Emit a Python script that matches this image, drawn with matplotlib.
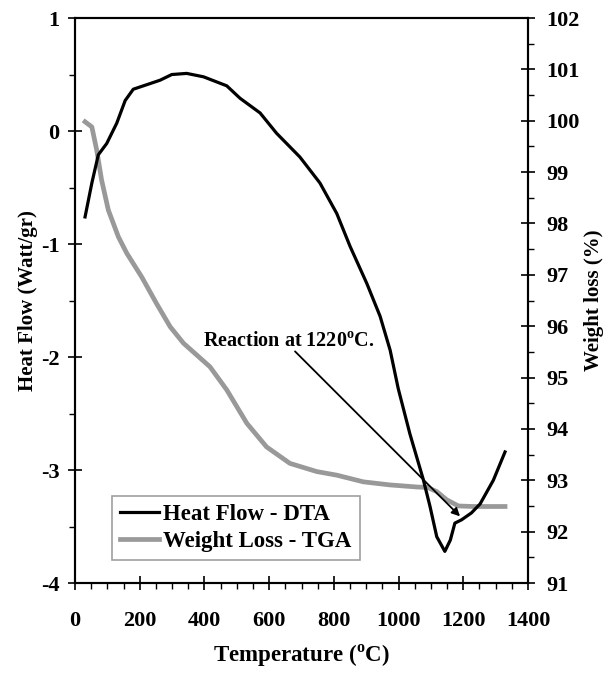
import matplotlib
matplotlib.use("Agg")
import matplotlib.pyplot as plt
from matplotlib.ticker import MultipleLocator

plt.rcParams['font.family'] = ['Liberation Serif', 'DejaVu Serif']
plt.rcParams['font.weight'] = 'bold'
plt.rcParams['axes.unicode_minus'] = False
plt.rcParams['mathtext.fontset'] = 'custom'
plt.rcParams['mathtext.rm'] = 'Liberation Serif:bold'
plt.rcParams['mathtext.bf'] = 'Liberation Serif:bold'

# DTA heat flow (left axis)
dta_temp = [31, 52, 72, 98, 129, 155, 180, 232, 263, 299, 345, 397, 469, 510, 572, 623,
            695, 757, 809, 850, 902, 943, 974, 999, 1035, 1076, 1097, 1118, 1143, 1160,
            1174, 1195, 1225, 1252, 1293, 1329]
dta_flow = [-0.76, -0.46, -0.21, -0.11, 0.07, 0.27, 0.37, 0.42, 0.45, 0.50, 0.51, 0.48,
            0.40, 0.29, 0.16, -0.02, -0.23, -0.46, -0.73, -1.02, -1.35, -1.64, -1.94,
            -2.28, -2.68, -3.08, -3.32, -3.59, -3.72, -3.62, -3.47, -3.44, -3.38, -3.30,
            -3.09, -2.84]

# TGA weight (right axis)
tga_temp = [31, 52, 67, 82, 103, 134, 160, 206, 252, 294, 335, 417, 469, 531, 592, 664,
            747, 809, 891, 973, 1056, 1090, 1118, 1149, 1185, 1231, 1329]
tga_weight = [99.98, 99.88, 99.43, 98.85, 98.26, 97.74, 97.42, 96.96, 96.44, 95.99, 95.67,
              95.21, 94.76, 94.11, 93.65, 93.33, 93.17, 93.10, 92.97, 92.91, 92.87, 92.86,
              92.78, 92.62, 92.50, 92.49, 92.49]

x_ticks = [0, 200, 400, 600, 800, 1000, 1200, 1400]
left_ticks = [1, 0, -1, -2, -3, -4]
right_ticks = list(range(91, 103))

fig = plt.figure(figsize=(6.08, 6.73), dpi=100)
ax = fig.add_axes([0.1234, 0.1337, 0.745, 0.8395])
ax2 = ax.twinx()

l1, = ax.plot(dta_temp, dta_flow, color='black', lw=2.3, label='Heat Flow - DTA', zorder=3)
l2, = ax2.plot(tga_temp, tga_weight, color='#999999', lw=3.4, label='Weight Loss - TGA')

ax.set_xlim(0, 1400)
ax.set_ylim(-4, 1)
ax2.set_ylim(91, 102)
ax.set_xticks(x_ticks)
ax.set_yticks(left_ticks)
ax2.set_yticks(right_ticks)
ax.xaxis.set_minor_locator(MultipleLocator(50))
ax.yaxis.set_minor_locator(MultipleLocator(0.5))
ax2.yaxis.set_minor_locator(MultipleLocator(0.5))

fs = 16
ax.tick_params(axis='x', which='major', direction='inout', length=10, width=1.2, labelsize=fs, pad=15)
ax.tick_params(axis='x', which='minor', direction='out', length=4, width=1.0)
ax.tick_params(axis='y', which='major', direction='inout', length=10, width=1.2, labelsize=fs, pad=6)
ax.tick_params(axis='y', which='minor', direction='out', length=4, width=1.0)
ax2.tick_params(axis='y', which='major', direction='inout', length=10, width=1.2, labelsize=fs, pad=8)
ax2.tick_params(axis='y', which='minor', direction='out', length=4, width=1.0)
for a in (ax, ax2):
    for s in a.spines.values():
        s.set_linewidth(1.5)
for lab in ax.get_xticklabels() + ax.get_yticklabels() + ax2.get_yticklabels():
    lab.set_fontweight('bold')

ax.set_xlabel('Temperature ($^{\\mathrm{o}}$C)', fontsize=16.5, fontweight='bold', labelpad=9)
ax.set_ylabel('Heat Flow (Watt/gr)', fontsize=15, fontweight='bold', labelpad=2)
ax2.set_ylabel('Weight loss (%)', fontsize=15, fontweight='bold', labelpad=3)

ax.text(396, -1.86, 'Reaction at 1220$^{\\mathrm{o}}$C.', fontsize=14.5, fontweight='bold',
        va='center', ha='left', zorder=5)
ax.annotate('', xy=(1190, -3.41), xytext=(680, -1.95),
            arrowprops=dict(arrowstyle='-|>', lw=1.3, color='black', mutation_scale=12,
                            shrinkA=0, shrinkB=0), zorder=5)

leg = ax.legend(handles=[l1, l2], loc='upper left', bbox_to_anchor=(0.081, 0.154),
                fontsize=16.5, frameon=True, fancybox=False, edgecolor='#888888',
                handlelength=1.7, handletextpad=0.2, borderpad=0.35, labelspacing=0.25,
                borderaxespad=0)
leg.get_frame().set_linewidth(1.2)
for t in leg.get_texts():
    t.set_fontweight('bold')
ax.set_zorder(ax2.get_zorder() + 1)
ax.patch.set_visible(False)

fig.savefig('out.png', dpi=100)
